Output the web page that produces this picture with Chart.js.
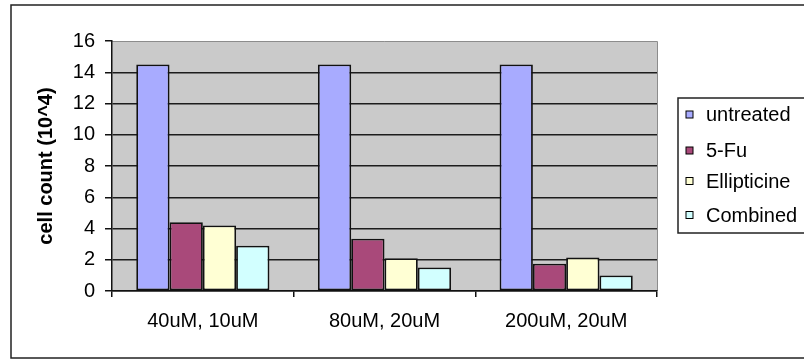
<!DOCTYPE html>
<html>
<head>
<meta charset="utf-8">
<script src="https://cdn.jsdelivr.net/npm/chart.js@4/dist/chart.umd.min.js"></script>
<style>
  html, body { margin: 0; padding: 0; background: #fff; }
  #wrap { width: 804px; height: 360px; }
</style>
</head>
<body>
<div id="wrap"><canvas id="c" width="804" height="360"></canvas></div>
<script>
// Cell counts (x 10^4) per dose combination
const categories = ['40uM, 10uM', '80uM, 20uM', '200uM, 20uM'];
const seriesNames = ['untreated', '5-Fu', 'Ellipticine', 'Combined'];
const untreated = [14.5, 14.5, 14.5];
const fiveFu = [4.4, 3.35, 1.75];
const ellipticine = [4.2, 2.1, 2.15];
const combined = [2.9, 1.5, 1.0];
const yTicks = [0, 2, 4, 6, 8, 10, 12, 14, 16];

const colors = ['#A8ABFF', '#A9497A', '#FFFFD4', '#D2FFFF'];
const FONT = '"Liberation Sans", Arial, sans-serif';
const FONT_SIZE = 20;

// Outer frame and grey plot background
const framePlugin = {
  id: 'frame',
  beforeDraw(chart) {
    const ctx = chart.ctx;
    const a = chart.chartArea;
    ctx.save();
    ctx.fillStyle = '#fff';
    ctx.fillRect(0, 0, chart.width, chart.height);
    ctx.strokeStyle = '#222';
    ctx.lineWidth = 1.5;
    ctx.strokeRect(11, 5, chart.width + 20, 353);
    ctx.fillStyle = '#CACACA';
    ctx.fillRect(a.left, a.top, a.right - a.left, a.bottom - a.top);
    ctx.strokeStyle = '#8c8c8c';
    ctx.lineWidth = 1;
    ctx.beginPath();
    ctx.moveTo(a.left, a.top + 0.5);
    ctx.lineTo(a.right + 0.5, a.top + 0.5);
    ctx.lineTo(a.right + 0.5, a.bottom);
    ctx.stroke();
    ctx.restore();
  }
};

// Boxed legend on the right
const legendBox = {
  id: 'legendBox',
  afterDraw(chart) {
    const ctx = chart.ctx;
    const x0 = 678, y0 = 98, y1 = 233;
    ctx.save();
    ctx.strokeStyle = '#222';
    ctx.lineWidth = 1.5;
    ctx.strokeRect(x0, y0, chart.width + 20 - x0, y1 - y0);
    ctx.font = FONT_SIZE + 'px ' + FONT;
    ctx.textBaseline = 'middle';
    ctx.textAlign = 'left';
    const rowY = [114.5, 150.5, 181, 215];
    chart.data.datasets.forEach((ds, i) => {
      const cy = rowY[i];
      ctx.fillStyle = ds.backgroundColor;
      ctx.fillRect(686, cy - 3.5, 7, 7);
      ctx.strokeStyle = '#000';
      ctx.lineWidth = 1;
      ctx.strokeRect(686, cy - 3.5, 7, 7);
      ctx.fillStyle = '#000';
      ctx.fillText(ds.label, 706, cy + 1);
    });
    ctx.restore();
  }
};

const seriesValues = [untreated, fiveFu, ellipticine, combined];

new Chart(document.getElementById('c'), {
  type: 'bar',
  data: {
    labels: categories,
    datasets: seriesNames.map((name, i) => ({
      label: name,
      data: seriesValues[i],
      backgroundColor: colors[i],
      borderColor: '#111',
      borderWidth: 1.8,
      borderSkipped: false,
      categoryPercentage: 0.733,
      barPercentage: 1.0
    }))
  },
  options: {
    responsive: false,
    animation: false,
    layout: { padding: { top: 41, left: 0, right: 147, bottom: 0 } },
    plugins: {
      legend: { display: false },
      tooltip: { enabled: false }
    },
    scales: {
      x: {
        grid: {
          display: true,
          drawOnChartArea: false,
          offset: true,
          tickLength: 6,
          tickColor: '#111',
          lineWidth: 1.5
        },
        border: { display: true, color: '#111', width: 1.5 },
        ticks: {
          color: '#000',
          font: { family: FONT, size: FONT_SIZE },
          padding: 12
        },
        afterFit(scale) { scale.height = 69; }
      },
      y: {
        min: 0,
        max: 16,
        afterBuildTicks(scale) { scale.ticks = yTicks.map(v => ({ value: v })); },
        grid: {
          color: (c) => (c.tick && c.tick.value === 16 ? 'rgba(0,0,0,0)' : '#1c1c1c'),
          lineWidth: 1.5,
          tickLength: 7,
          tickColor: '#111'
        },
        border: { display: true, color: '#111', width: 1.5 },
        ticks: {
          color: '#000',
          font: { family: FONT, size: FONT_SIZE },
          padding: 10
        },
        title: {
          display: true,
          text: 'cell count (10^4)',
          color: '#000',
          font: { family: FONT, size: FONT_SIZE, weight: 'bold' },
          padding: { top: 34, bottom: 0 }
        },
        afterFit(scale) { scale.width = 112; }
      }
    }
  },
  plugins: [framePlugin, legendBox]
});
</script>
</body>
</html>
